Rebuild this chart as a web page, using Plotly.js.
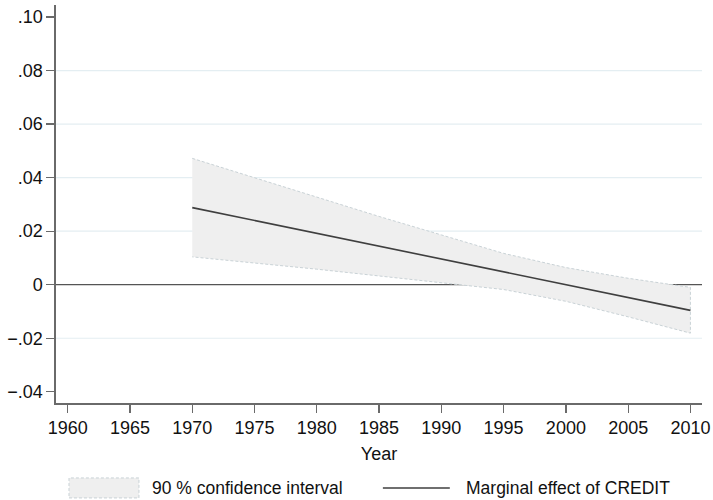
<!DOCTYPE html>
<html>
<head>
<meta charset="utf-8">
<script src="https://cdn.plot.ly/plotly-3.0.1.min.js"></script>
<style>
html,body{margin:0;padding:0;background:#fff;}
#chart{width:713px;height:500px;}
</style>
</head>
<body>
<div id="chart"></div>
<script>
// Data
const years  = [1970, 1975, 1980, 1985, 1990, 1995, 2000, 2005, 2010];
const effect = [0.0288, 0.0240, 0.0192, 0.0144, 0.0096, 0.0048, 0.0000, -0.0048, -0.0096];
const upper  = [0.0472, 0.0399, 0.0326, 0.0255, 0.0186, 0.0117, 0.0064, 0.0024, -0.0010];
const lower  = [0.0104, 0.0081, 0.0058, 0.0034, 0.0008, -0.0018, -0.0062, -0.0120, -0.0181];

const xTickVals = [1960, 1965, 1970, 1975, 1980, 1985, 1990, 1995, 2000, 2005, 2010];
const yTickVals = [-0.04, -0.02, 0, 0.02, 0.04, 0.06, 0.08, 0.10];
const yTickText = ['\u2212.04', '\u2212.02', '0', '.02', '.04', '.06', '.08', '.10'];
const gridVals  = [-0.02, 0.02, 0.04, 0.06, 0.08];

const ciLabel = '90 % confidence interval';
const lineLabel = 'Marginal effect of CREDIT';

const FONT = 'Liberation Sans, Arial, Helvetica, sans-serif';
const bandFill = '#efefef';
const bandEdge = '#c9d2d6';
const lineColor = '#3f3f3f';
const axisColor = '#6a6a6a';

const bandX = years.concat(years.slice().reverse());
const bandY = upper.concat(lower.slice().reverse());

const traces = [
  {
    x: bandX, y: bandY, type: 'scatter', mode: 'lines',
    fill: 'toself', fillcolor: bandFill,
    line: {color: bandEdge, width: 1, dash: '3px,2px'},
    name: ciLabel, showlegend: false, hoverinfo: 'skip'
  },
  {
    x: years, y: effect, type: 'scatter', mode: 'lines',
    line: {color: lineColor, width: 1.6},
    name: lineLabel, showlegend: false
  }
];

const shapes = gridVals.map(v => ({
  type: 'line', xref: 'paper', yref: 'y', x0: 0, x1: 1, y0: v, y1: v,
  line: {color: '#e4eef2', width: 1.2}, layer: 'below'
}));
// zero reference line
shapes.push({
  type: 'line', xref: 'paper', yref: 'y', x0: 0, x1: 1, y0: 0, y1: 0,
  line: {color: '#555555', width: 1.2}, layer: 'below'
});
// legend keys
shapes.push({
  type: 'rect', xref: 'paper', yref: 'paper',
  x0: 0.0201, x1: 0.1284, y0: -0.2385, y1: -0.1883,
  fillcolor: bandFill, line: {color: bandEdge, width: 1, dash: '3px,2px'}
});
shapes.push({
  type: 'line', xref: 'paper', yref: 'paper',
  x0: 0.506, x1: 0.6096, y0: -0.2134, y1: -0.2134,
  line: {color: lineColor, width: 1.6}
});

const annotations = [
  {xref: 'paper', yref: 'paper', x: 0.1454, y: -0.2134, xanchor: 'left', yanchor: 'middle',
   text: ciLabel, showarrow: false, font: {family: FONT, size: 17.5, color: '#111'}},
  {xref: 'paper', yref: 'paper', x: 0.6313, y: -0.2134, xanchor: 'left', yanchor: 'middle',
   text: lineLabel, showarrow: false, font: {family: FONT, size: 17.5, color: '#111'}}
];

const layout = {
  width: 713, height: 500,
  margin: {l: 56, r: 10.7, t: 5, b: 96.7},
  paper_bgcolor: '#ffffff', plot_bgcolor: '#ffffff',
  showlegend: false,
  font: {family: FONT, size: 18, color: '#111'},
  xaxis: {
    range: [1959.06, 2010.93],
    tickvals: xTickVals, ticktext: xTickVals.map(String),
    ticks: 'outside', ticklen: 8, tickwidth: 1.3, tickcolor: axisColor,
    showline: true, linecolor: axisColor, linewidth: 1.6,
    showgrid: false, zeroline: false,
    tickfont: {family: FONT, size: 18, color: '#111'},
    title: {text: 'Year', font: {family: FONT, size: 18, color: '#111'}, standoff: 10},
    automargin: false
  },
  yaxis: {
    range: [-0.0442, 0.1045],
    tickvals: yTickVals, ticktext: yTickText,
    ticks: 'outside', ticklen: 8, tickwidth: 1.3, tickcolor: axisColor,
    showline: true, linecolor: axisColor, linewidth: 1.6,
    showgrid: false, zeroline: false,
    tickfont: {family: FONT, size: 18, color: '#111'},
    automargin: false
  },
  shapes: shapes,
  annotations: annotations
};

Plotly.newPlot('chart', traces, layout, {displayModeBar: false, staticPlot: true});
</script>
</body>
</html>
